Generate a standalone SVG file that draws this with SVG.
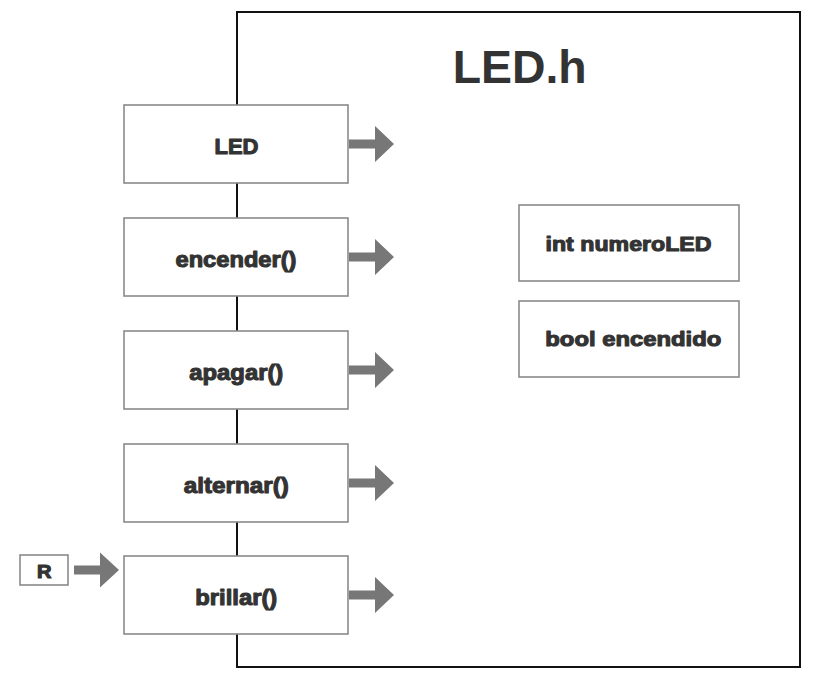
<svg xmlns="http://www.w3.org/2000/svg" width="817" height="680" viewBox="0 0 817 680">
<style>
.frame{fill:none;stroke:#111;stroke-width:2}
.box{fill:#fff;stroke:#8a8a8a;stroke-width:1.6}
.lbl{font-family:"Liberation Sans",Arial,sans-serif;font-weight:bold;fill:#333;stroke:#333;stroke-width:1.1;stroke-linejoin:round;text-anchor:middle}
.m{font-size:22.5px}
.a{font-size:21px}
.title{font-family:"Liberation Sans",Arial,sans-serif;font-weight:bold;font-size:46px;fill:#333;text-anchor:middle}
.arr{fill:#777}
</style>
<defs>
<path id="arrow" class="arr" d="M0,-4.5 H26 V-18 L45,0 L26,18 V4.5 H0 Z"/>
</defs>
<rect width="817" height="680" fill="#fff"/>
<g id="file">
<rect class="frame" x="237" y="12" width="563" height="655"/>
<text class="title" x="519.7" y="83" textLength="134" lengthAdjust="spacingAndGlyphs">LED.h</text>
</g>
<g id="connectors">
<use href="#arrow" x="349" y="144"/>
<use href="#arrow" x="349" y="257"/>
<use href="#arrow" x="349" y="370"/>
<use href="#arrow" x="349" y="483"/>
<use href="#arrow" x="349" y="595"/>
<path class="arr" d="M74,565.5 H100 V552.5 L119,570 L100,587.5 V574.5 H74 Z"/>
</g>
<g id="node-led">
<rect class="box" x="124" y="105" width="224" height="78"/>
<text class="lbl m" x="236.5" y="153.5" textLength="44" lengthAdjust="spacingAndGlyphs">LED</text>
</g>
<g id="node-encender">
<rect class="box" x="124" y="218" width="224" height="78"/>
<text class="lbl m" x="236" y="266.5" textLength="121" lengthAdjust="spacingAndGlyphs">encender()</text>
</g>
<g id="node-apagar">
<rect class="box" x="124" y="331" width="224" height="78"/>
<text class="lbl m" x="236.3" y="379.5" textLength="94" lengthAdjust="spacingAndGlyphs">apagar()</text>
</g>
<g id="node-alternar">
<rect class="box" x="124" y="444" width="224" height="78"/>
<text class="lbl m" x="236.3" y="492.5" textLength="105" lengthAdjust="spacingAndGlyphs">alternar()</text>
</g>
<g id="node-brillar">
<rect class="box" x="124" y="556" width="224" height="78"/>
<text class="lbl m" x="236.3" y="604.5" textLength="82" lengthAdjust="spacingAndGlyphs">brillar()</text>
</g>
<g id="node-r">
<rect class="box" x="20" y="555" width="48" height="30"/>
<text class="lbl" style="font-size:18px" x="44.2" y="577.5" textLength="14.5" lengthAdjust="spacingAndGlyphs">R</text>
</g>
<g id="node-numeroled">
<rect class="box" x="519" y="205" width="220" height="76"/>
<text class="lbl a" x="628.5" y="251" textLength="166" lengthAdjust="spacingAndGlyphs">int numeroLED</text>
</g>
<g id="node-encendido">
<rect class="box" x="519" y="301" width="220" height="76"/>
<text class="lbl a" x="633.3" y="346" textLength="176" lengthAdjust="spacingAndGlyphs">bool encendido</text>
</g>
</svg>
